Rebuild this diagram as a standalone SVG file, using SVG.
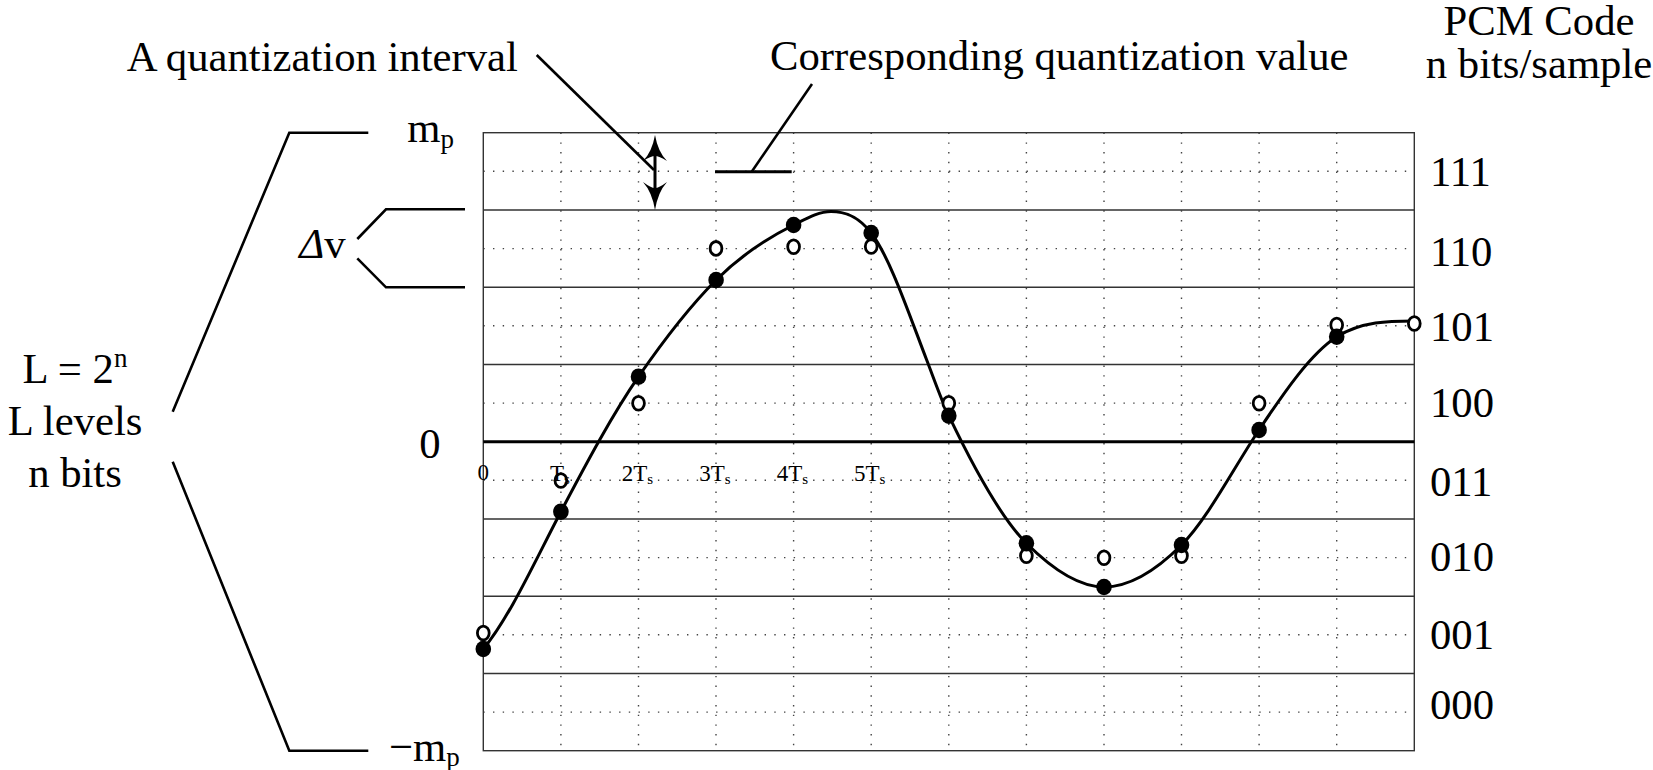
<svg xmlns="http://www.w3.org/2000/svg" width="1653" height="770" viewBox="0 0 1653 770">
<style>
text{font-family:"Liberation Serif","Times New Roman",serif;fill:#000}
.big{font-size:42.7px}
.sm{font-size:23px}
.sub{font-size:27px}
.ssub{font-size:15px}
.grid{stroke:#333;stroke-width:1.4;fill:none}
.dot{stroke:#444;stroke-width:1.4;stroke-dasharray:1.4 8.3;fill:none}
.lead{stroke:#000;stroke-width:2.6;fill:none}
.curve{stroke:#000;stroke-width:3;fill:none}
.open{fill:#fff;stroke:#000;stroke-width:2.8}
.fill{fill:#000}
</style>
<rect x="0" y="0" width="1653" height="770" fill="#fff"/>
<g id="grid">
<g class="dot">
<path d="M483.3,171.3H1414.3M483.3,248.6H1414.3M483.3,325.8H1414.3M483.3,403.1H1414.3M483.3,480.3H1414.3M483.3,557.6H1414.3M483.3,634.8H1414.3M483.3,712.1H1414.3"/>
<path d="M560.9,132.7V750.7M638.5,132.7V750.7M716,132.7V750.7M793.6,132.7V750.7M871.2,132.7V750.7M948.8,132.7V750.7M1026.4,132.7V750.7M1104,132.7V750.7M1181.5,132.7V750.7M1259.1,132.7V750.7M1336.7,132.7V750.7"/>
</g>
<g class="grid">
<rect x="483.3" y="132.7" width="931" height="618"/>
<path d="M483.3,209.95H1414.3M483.3,287.2H1414.3M483.3,364.45H1414.3M483.3,518.95H1414.3M483.3,596.2H1414.3M483.3,673.45H1414.3"/>
</g>
<path d="M483.3,441.7H1414.3" stroke="#000" stroke-width="3"/>
</g>
<g id="signal">
<path class="curve" d="M483.3,649 C509.2,618 535,560.9 560.9,511.7 C586.8,462.55 612.6,414.2 638.5,376.7 C664.4,339.2 690.2,305.9 716.1,280 C741.9,254.2 767.8,237.9 793.6,225 C806.1,218.8 818.5,211.5 831,211.5 C844.4,211.5 857.8,215.6 871.2,233 C889.7,257.05 908.2,311.9 926.7,360 C934.1,379.2 941.4,400.2 948.8,415.7 C974.7,470 1000.5,517.4 1026.4,543.3 C1052.3,569.2 1078.1,587 1104,587 C1129.8,587 1155.7,570.8 1181.5,545 C1207.3,519.2 1233.2,468.7 1259,430 C1284.9,391.15 1310.8,353.5 1336.7,336.7 C1362.6,321.2 1388.4,321 1414.3,321"/>
</g>
<g id="quantized-samples">
<ellipse class="open" cx="483.3" cy="633" rx="5.9" ry="6.9"/>
<ellipse class="open" cx="560.9" cy="480.5" rx="5.9" ry="6.9"/>
<ellipse class="open" cx="638.5" cy="403.2" rx="5.9" ry="6.9"/>
<ellipse class="open" cx="716" cy="248.4" rx="5.9" ry="6.9"/>
<ellipse class="open" cx="793.6" cy="246.7" rx="5.9" ry="6.9"/>
<ellipse class="open" cx="871.2" cy="246.5" rx="5.9" ry="6.9"/>
<ellipse class="open" cx="948.8" cy="403.3" rx="5.9" ry="6.9"/>
<ellipse class="open" cx="1026.4" cy="555.7" rx="5.9" ry="6.9"/>
<ellipse class="open" cx="1104" cy="557.7" rx="5.9" ry="6.9"/>
<ellipse class="open" cx="1181.5" cy="555.7" rx="5.9" ry="6.9"/>
<ellipse class="open" cx="1259.1" cy="403.3" rx="5.9" ry="6.9"/>
<ellipse class="open" cx="1336.7" cy="325" rx="5.9" ry="6.9"/>
<ellipse class="open" cx="1414.3" cy="323.5" rx="5.9" ry="6.9"/>
</g>
<g id="samples">
<ellipse class="fill" cx="483.3" cy="649" rx="7.8" ry="8.3"/>
<ellipse class="fill" cx="560.9" cy="511.7" rx="7.8" ry="8.3"/>
<ellipse class="fill" cx="638.5" cy="376.7" rx="7.8" ry="8.3"/>
<ellipse class="fill" cx="716.1" cy="280" rx="7.8" ry="8.3"/>
<ellipse class="fill" cx="793.6" cy="225" rx="7.8" ry="8.3"/>
<ellipse class="fill" cx="871.2" cy="233" rx="7.8" ry="8.3"/>
<ellipse class="fill" cx="948.8" cy="415.7" rx="7.8" ry="8.3"/>
<ellipse class="fill" cx="1026.4" cy="543.3" rx="7.8" ry="8.3"/>
<ellipse class="fill" cx="1104" cy="587" rx="7.8" ry="8.3"/>
<ellipse class="fill" cx="1181.5" cy="545" rx="7.8" ry="8.3"/>
<ellipse class="fill" cx="1259.1" cy="430" rx="7.8" ry="8.3"/>
<ellipse class="fill" cx="1336.7" cy="336.7" rx="7.8" ry="8.3"/>
</g>
<g id="connectors">
<path class="lead" d="M536.7,55 L654,170"/>
<path class="lead" d="M812,84 L751.7,171.7"/>
<path d="M715,171.7 H791.7" stroke="#000" stroke-width="3"/>
<path d="M655,150 V195" stroke="#000" stroke-width="3"/>
<path class="fill" d="M655,135 Q658,152 667,161 Q659,156 655,156 Q651,156 643,161 Q652,152 655,135 Z"/>
<path class="fill" d="M655,210 Q652,192 643,182 Q651,188 655,188 Q659,188 667,182 Q658,192 655,210 Z"/>
<path class="lead" d="M368.3,132.7 H289.3 L172.7,411.7"/>
<path class="lead" d="M368.3,750.7 H289.3 L172.7,461.7"/>
<path class="lead" d="M465,209.3 H386 L357.3,239"/>
<path class="lead" d="M465,287.3 H386 L357.3,258.3"/>
</g>
<g id="labels">
<text class="big" x="126.7" y="70.5">A quantization interval</text>
<text class="big" x="770" y="70">Corresponding quantization value</text>
<text class="big" x="1539" y="35" text-anchor="middle">PCM Code</text>
<text class="big" x="1539" y="78" text-anchor="middle">n bits/sample</text>
<text class="big" x="75" y="383.3" text-anchor="middle">L = 2<tspan class="sub" dy="-16">n</tspan></text>
<text class="big" x="75" y="435" text-anchor="middle">L levels</text>
<text class="big" x="75" y="486.7" text-anchor="middle">n bits</text>
<text class="big" x="407.3" y="141.7">m<tspan class="sub" dy="6">p</tspan></text>
<text class="big" x="389" y="761">−m<tspan class="sub" dy="5">p</tspan></text>
<text class="big" x="299.3" y="258.3"><tspan font-style="italic">Δ</tspan>v</text>
<text class="big" x="419.3" y="458.3">0</text>
<text class="sm" x="483.3" y="480" text-anchor="middle">0</text>
<text class="sm" x="550" y="480.7">T<tspan class="ssub" dy="3.5">s</tspan></text>
<text class="sm" x="621.7" y="480.7">2T<tspan class="ssub" dy="3.5">s</tspan></text>
<text class="sm" x="699.3" y="480.7">3T<tspan class="ssub" dy="3.5">s</tspan></text>
<text class="sm" x="776.7" y="480.7">4T<tspan class="ssub" dy="3.5">s</tspan></text>
<text class="sm" x="854" y="480.7">5T<tspan class="ssub" dy="3.5">s</tspan></text>
<text class="big" x="1430" y="185.5">111</text>
<text class="big" x="1430" y="266">110</text>
<text class="big" x="1430" y="340.5">101</text>
<text class="big" x="1430" y="416.5">100</text>
<text class="big" x="1430" y="496">011</text>
<text class="big" x="1430" y="570.5">010</text>
<text class="big" x="1430" y="648.5">001</text>
<text class="big" x="1430" y="718.5">000</text>
</g>
</svg>
